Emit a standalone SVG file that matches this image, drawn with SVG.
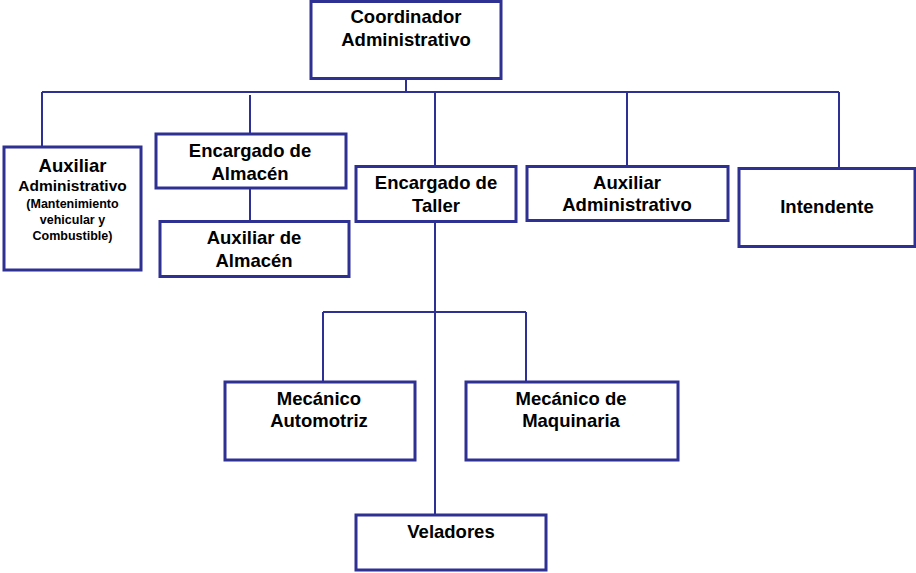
<svg xmlns="http://www.w3.org/2000/svg" width="916" height="573" viewBox="0 0 916 573">
<style>
.box{fill:#fff;stroke:#2E3192;stroke-width:3}
.ln{fill:none;stroke:#2E3192;stroke-width:2}
text{font-family:"Liberation Sans",Arial,sans-serif;font-weight:bold;fill:#000;text-anchor:middle}
.t{font-size:18.5px}
.s{font-size:15.5px}
.xs{font-size:12.5px}
</style>
<rect width="916" height="573" fill="#fff"/>
<g id="connectors">
<path class="ln" d="M406 78V92M42 92H839M42 92V147M250 95V134M435 92V166M627 91V166M839 92V168"/>
<path class="ln" d="M250 188V222"/>
<path class="ln" d="M435 222V515M323 312H526M323 312V382M526 312V382"/>
</g>
<g id="coordinador">
<rect class="box" x="311" y="1.5" width="190" height="77"/>
<text class="t" x="406" y="23">Coordinador</text>
<text class="t" x="406" y="46">Administrativo</text>
</g>
<g id="aux-admin-1">
<rect class="box" x="4" y="147" width="137" height="123"/>
<text class="t" x="72.5" y="172">Auxiliar</text>
<text class="s" x="72.5" y="191">Administrativo</text>
<text class="xs" x="72.5" y="208">(Mantenimiento</text>
<text class="xs" x="72.5" y="224">vehicular y</text>
<text class="xs" x="72.5" y="240">Combustible)</text>
</g>
<g id="encargado-almacen">
<rect class="box" x="156" y="134" width="190" height="54"/>
<text class="t" x="250" y="157">Encargado de</text>
<text class="t" x="250" y="180">Almacén</text>
</g>
<g id="auxiliar-almacen">
<rect class="box" x="160" y="221.5" width="189" height="55"/>
<text class="t" x="254" y="244">Auxiliar de</text>
<text class="t" x="254" y="267">Almacén</text>
</g>
<g id="encargado-taller">
<rect class="box" x="356" y="166.5" width="160" height="55"/>
<text class="t" x="436" y="189">Encargado de</text>
<text class="t" x="436" y="212">Taller</text>
</g>
<g id="aux-admin-2">
<rect class="box" x="527" y="166.5" width="201" height="54"/>
<text class="t" x="627" y="189">Auxiliar</text>
<text class="t" x="627" y="211">Administrativo</text>
</g>
<g id="intendente">
<rect class="box" x="739" y="168.5" width="176" height="78"/>
<text class="t" x="827" y="213">Intendente</text>
</g>
<g id="mecanico-automotriz">
<rect class="box" x="225" y="382" width="190" height="78"/>
<text class="t" x="319" y="405">Mecánico</text>
<text class="t" x="319" y="427">Automotriz</text>
</g>
<g id="mecanico-maquinaria">
<rect class="box" x="466" y="382" width="212" height="78"/>
<text class="t" x="571" y="405">Mecánico de</text>
<text class="t" x="571" y="427">Maquinaria</text>
</g>
<g id="veladores">
<rect class="box" x="356" y="515" width="190" height="55"/>
<text class="t" x="451" y="538">Veladores</text>
</g>
</svg>
